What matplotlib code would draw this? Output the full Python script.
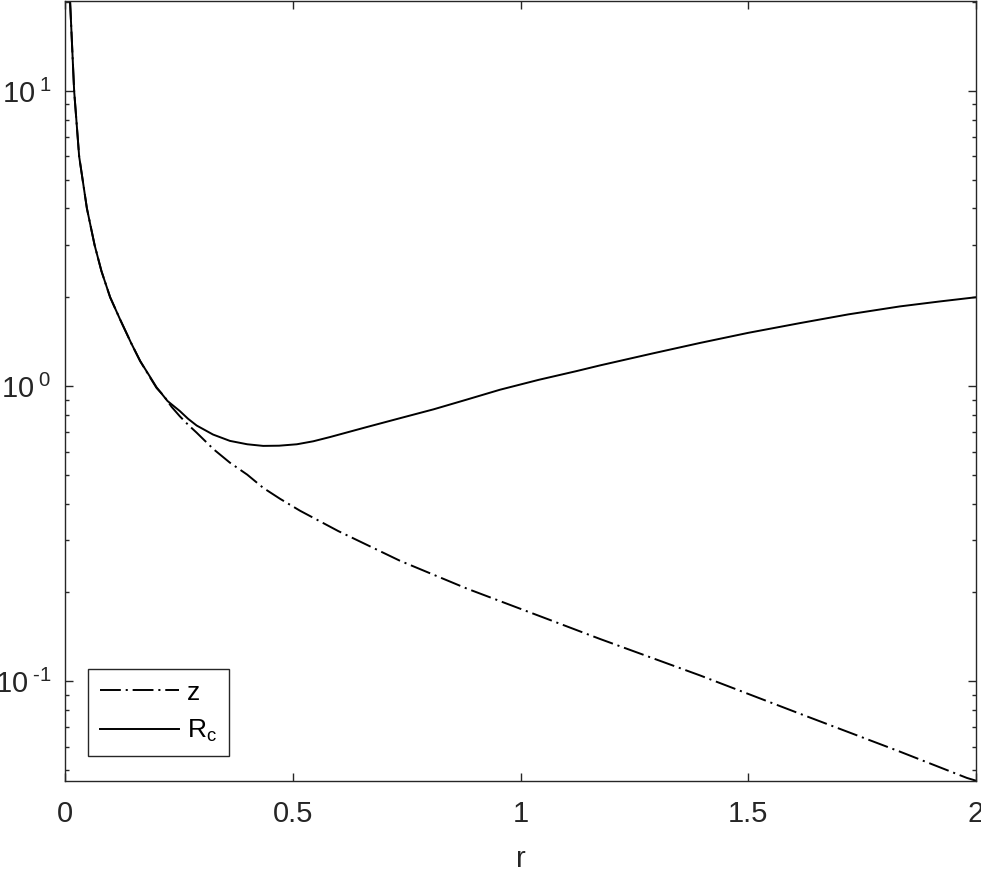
import numpy as np
import matplotlib
matplotlib.use("Agg")
import matplotlib.pyplot as plt
from matplotlib.ticker import FixedLocator, FuncFormatter

# values (log y axis)
r_z = [0.008, 0.011, 0.020, 0.031, 0.048, 0.065, 0.080, 0.099, 0.121, 0.145, 0.165,
       0.185, 0.201, 0.216, 0.234, 0.252, 0.270, 0.289, 0.326, 0.362, 0.400, 0.435,
       0.472, 0.516, 0.600, 0.735, 0.882, 1.061, 1.1745, 1.394, 1.614, 1.833, 1.98, 2.0]
z = [26.0, 20.2, 10.0, 6.0, 4.0, 3.0, 2.45, 2.0, 1.68, 1.40, 1.215,
     1.08, 0.985, 0.93, 0.85, 0.79, 0.74, 0.695, 0.611, 0.550, 0.501, 0.452,
     0.415, 0.378, 0.3225, 0.256, 0.206, 0.162, 0.139, 0.1046, 0.0775, 0.0577, 0.047, 0.0460]

r_rc = [0.008, 0.011, 0.020, 0.031, 0.048, 0.065, 0.080, 0.099, 0.121, 0.145, 0.165,
        0.185, 0.201, 0.225, 0.252, 0.270, 0.289, 0.325, 0.362, 0.400, 0.435, 0.470,
        0.509, 0.545, 0.582, 0.662, 0.735, 0.809, 0.880, 0.955, 1.040, 1.123, 1.1745,
        1.290, 1.394, 1.500, 1.614, 1.720, 1.833, 1.920, 2.0]
rc = [26.0, 20.2, 10.0, 6.0, 4.0, 3.0, 2.45, 2.0, 1.68, 1.40, 1.215,
      1.085, 0.99, 0.89, 0.823, 0.775, 0.735, 0.685, 0.652, 0.635, 0.627, 0.628,
      0.635, 0.650, 0.672, 0.726, 0.778, 0.834, 0.898, 0.972, 1.050, 1.124, 1.175,
      1.290, 1.400, 1.515, 1.635, 1.750, 1.862, 1.935, 2.0]

xticks = [0, 0.5, 1, 1.5, 2]
xtick_labels = ["0", "0.5", "1", "1.5", "2"]
yticks = [0.1, 1, 10]

plt.rcParams['font.family'] = ['Liberation Sans', 'DejaVu Sans']
plt.rcParams['mathtext.fontset'] = 'custom'
plt.rcParams['mathtext.rm'] = 'Liberation Sans'
plt.rcParams['mathtext.it'] = 'Liberation Sans'
plt.rcParams['mathtext.default'] = 'regular'
plt.rcParams['lines.scale_dashes'] = False

axcol = '#262626'

fig = plt.figure(figsize=(9.81, 8.72), dpi=100)
ax = fig.add_axes([0.0663, 0.1044, 0.9286, 0.8946])

ax.plot(r_z, z, color='k', lw=1.4, linestyle=(0, (15, 3.5, 1.5, 3.5)), label='z')
ax.plot(r_rc, rc, color='k', lw=1.4, label='R$_c$')

ax.set_yscale('log')
ax.set_xlim(0, 2)
ax.set_ylim(0.0459, 20.2)
ax.set_xticks(xticks)
ax.set_xticklabels(xtick_labels)
ax.yaxis.set_major_locator(FixedLocator(yticks))


def fmt(v, pos):
    e = int(round(np.log10(v)))
    s = str(e) if e >= 0 else '-' + str(-e)
    return r'$10^{\;\text{%s}}$' % s


ax.yaxis.set_major_formatter(FuncFormatter(fmt))
ax.set_xlabel('r', fontsize=21, color=axcol, labelpad=12)

ax.tick_params(which='both', direction='in', top=True, right=True,
               labelsize=21, colors=axcol, width=1)
ax.tick_params(which='major', length=6)
ax.tick_params(which='minor', length=3)
ax.tick_params(axis='x', pad=14)
ax.tick_params(axis='y', pad=10)
for s in ax.spines.values():
    s.set_color(axcol)
    s.set_linewidth(1)

leg = ax.legend(loc='lower left', bbox_to_anchor=(0.0252, 0.032), fontsize=19,
                fancybox=False, framealpha=1, edgecolor=axcol, handlelength=3.0,
                handletextpad=0.3, borderpad=0.45, labelspacing=0.5, borderaxespad=0)
leg.get_frame().set_linewidth(1)

fig.savefig('out.png', dpi=100)
